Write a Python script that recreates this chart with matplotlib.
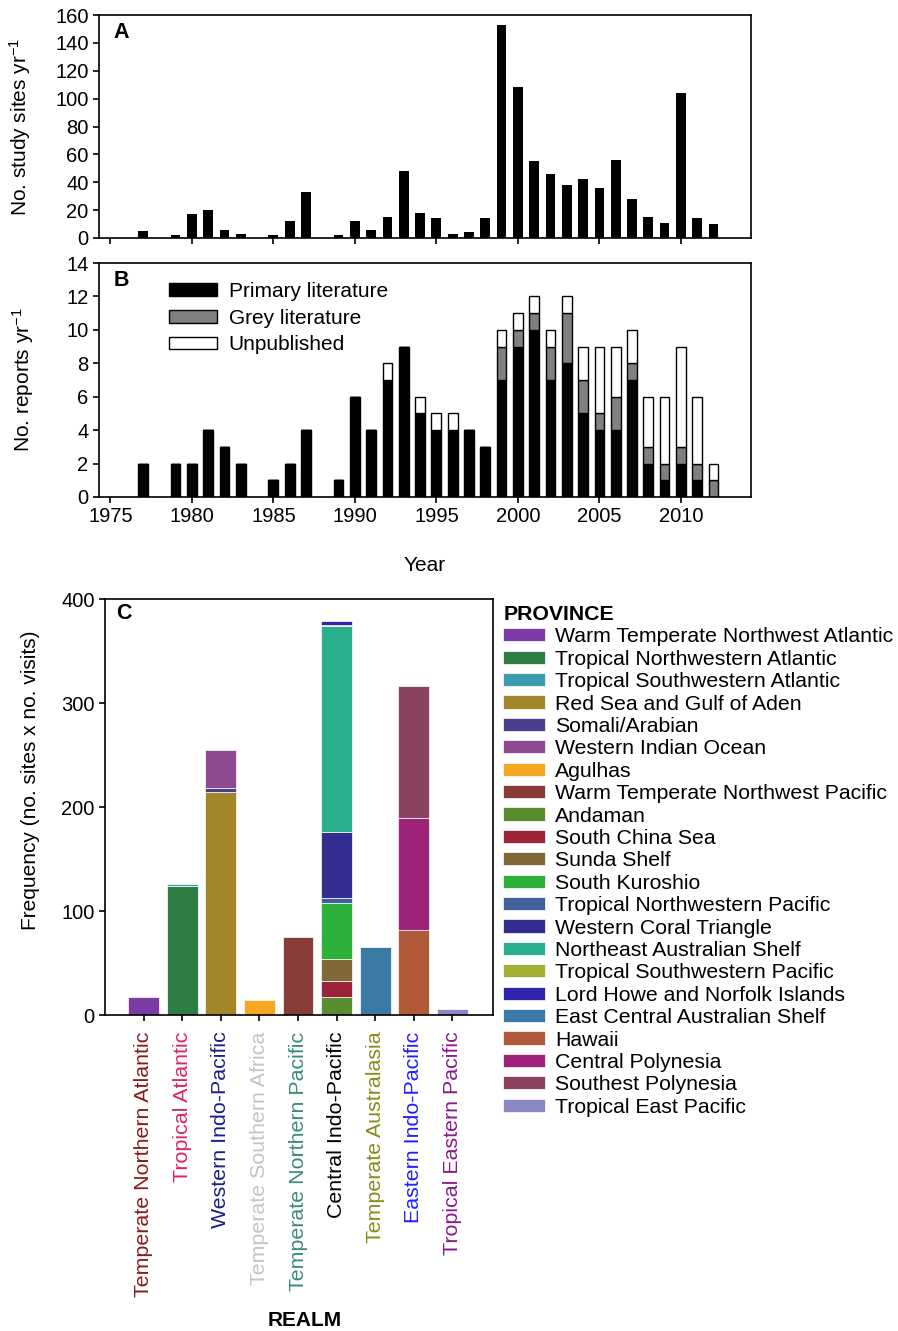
import matplotlib
matplotlib.use("Agg")
import matplotlib.pyplot as plt
from matplotlib.patches import Patch
import numpy as np

plt.rcParams["font.family"] = ["Liberation Sans", "DejaVu Sans"]
plt.rcParams["mathtext.default"] = "regular"

# ---------------------------------------------------------------------------
# Data
# ---------------------------------------------------------------------------

# Panel A: study sites per year
years_a = [1977, 1979, 1980, 1981, 1982, 1983, 1985, 1986, 1987, 1989, 1990,
           1991, 1992, 1993, 1994, 1995, 1996, 1997, 1998, 1999, 2000, 2001,
           2002, 2003, 2004, 2005, 2006, 2007, 2008, 2009, 2010, 2011, 2012]
sites_a = [5, 2, 17, 20, 6, 3, 2, 12, 33, 2, 12,
           6, 15, 48, 18, 14, 3, 4, 14, 153, 108, 55,
           46, 38, 42, 36, 56, 28, 15, 11, 104, 14, 10]

# Panel B: reports per year by source
years_b = years_a
primary = [2, 2, 2, 4, 3, 2, 1, 2, 4, 1, 6,
           4, 7, 9, 5, 4, 4, 4, 3, 7, 9, 10,
           7, 8, 5, 4, 4, 7, 2, 1, 2, 1, 0]
grey = [0, 0, 0, 0, 0, 0, 0, 0, 0, 0, 0,
        0, 0, 0, 0, 0, 0, 0, 0, 2, 1, 1,
        2, 3, 2, 1, 2, 1, 1, 1, 1, 1, 1]
unpublished = [0, 0, 0, 0, 0, 0, 0, 0, 0, 0, 0,
               0, 1, 0, 1, 1, 1, 0, 0, 1, 1, 1,
               1, 1, 2, 4, 3, 2, 3, 4, 6, 4, 1]

# Panel C: frequency by realm / province
realms = ["Temperate Northern Atlantic", "Tropical Atlantic",
          "Western Indo-Pacific", "Temperate Southern Africa",
          "Temperate Northern Pacific", "Central Indo-Pacific",
          "Temperate Australasia", "Eastern Indo-Pacific",
          "Tropical Eastern Pacific"]
realm_colors = ["#8b1a1a", "#e0245e", "#1c1c8c", "#c4c4c4", "#3a8a7a",
                "#000000", "#8a8a1a", "#1f1fff", "#8a1a8a"]

provinces = ["Warm Temperate Northwest Atlantic", "Tropical Northwestern Atlantic",
             "Tropical Southwestern Atlantic", "Red Sea and Gulf of Aden",
             "Somali/Arabian", "Western Indian Ocean", "Agulhas",
             "Warm Temperate Northwest Pacific", "Andaman", "South China Sea",
             "Sunda Shelf", "South Kuroshio", "Tropical Northwestern Pacific",
             "Western Coral Triangle", "Northeast Australian Shelf",
             "Tropical Southwestern Pacific", "Lord Howe and Norfolk Islands",
             "East Central Australian Shelf", "Hawaii", "Central Polynesia",
             "Southest Polynesia", "Tropical East Pacific"]
province_colors = ["#7e3ba8", "#2e7d45", "#3a9eae", "#a38627", "#4b3e8e",
                   "#8e4a90", "#f5a623", "#873c37", "#5a8c30", "#9b2438",
                   "#806838", "#2bb03a", "#42609a", "#342d92", "#2aae8e",
                   "#a3b035", "#3025aa", "#3a7aa5", "#b05a3a", "#9c2379",
                   "#8a435e", "#8a88c4"]
province_realm = [0, 1, 1, 2, 2, 2, 3, 4, 5, 5, 5, 5, 5, 5, 5, 5, 5, 6, 7, 7, 7, 8]
province_values = [17, 124, 2, 214, 4, 37, 14, 75, 17, 16, 21, 54, 5, 63,
                   198, 1, 4, 65, 82, 107, 127, 6]

# ---------------------------------------------------------------------------
# Figure
# ---------------------------------------------------------------------------

TICK = 14.5
LAB = 15

fig = plt.figure(figsize=(8.98, 13.31), dpi=100)
ax_a = fig.add_axes([0.1102, 0.8212, 0.7261, 0.1675])
ax_b = fig.add_axes([0.1102, 0.6266, 0.7261, 0.1758])
ax_c = fig.add_axes([0.1169, 0.2374, 0.4321, 0.3125])

for ax in (ax_a, ax_b, ax_c):
    for s in ax.spines.values():
        s.set_linewidth(1.2)
    ax.tick_params(direction="out", length=4, width=1.2, labelsize=TICK)

# Panel A
ax_a.bar(years_a, sites_a, width=0.6, color="black")
ax_a.set_xlim(1974.3, 2014.3)
ax_a.set_ylim(0, 160)
ax_a.set_yticks(np.arange(0, 161, 20))
ax_a.set_xticks(np.arange(1975, 2011, 5))
ax_a.set_xticklabels([])
ax_a.set_ylabel("No. study sites yr$^{-1}$", fontsize=LAB)
ax_a.yaxis.set_label_coords(-0.101, 0.5)
ax_a.text(0.022, 0.92, "A", transform=ax_a.transAxes, fontsize=15.5,
          fontweight="bold", va="center")

# Panel B
p_arr = np.array(primary)
g_arr = np.array(grey)
u_arr = np.array(unpublished)
kw = dict(width=0.6, edgecolor="black", linewidth=1.0)
ax_b.bar(years_b, p_arr, color="black", label="Primary literature", **kw)
ax_b.bar(years_b, g_arr, bottom=p_arr, color="#808080",
         label="Grey literature", **kw)
ax_b.bar(years_b, u_arr, bottom=p_arr + g_arr, color="white",
         label="Unpublished", **kw)
ax_b.set_xlim(1974.3, 2014.3)
ax_b.set_ylim(0, 14)
ax_b.set_yticks(np.arange(0, 15, 2))
ax_b.set_xticks(np.arange(1975, 2011, 5))
ax_b.set_xlabel("Year", fontsize=LAB, labelpad=21)
ax_b.set_ylabel("No. reports yr$^{-1}$", fontsize=LAB)
ax_b.yaxis.set_label_coords(-0.097, 0.5)
ax_b.text(0.022, 0.925, "B", transform=ax_b.transAxes, fontsize=15.5,
          fontweight="bold", va="center")
ax_b.legend(loc="upper left", bbox_to_anchor=(0.095, 0.955), frameon=False,
            fontsize=LAB, handlelength=2.3, handleheight=0.56,
            handletextpad=0.55, labelspacing=0.37, borderaxespad=0)

# Panel C
x_c = np.arange(1, len(realms) + 1)
bottoms = np.zeros(len(realms))
for name, col, r, v in zip(provinces, province_colors, province_realm,
                           province_values):
    ax_c.bar(x_c[r], v, bottom=bottoms[r], width=0.8, color=col,
             edgecolor="white", linewidth=0.5)
    bottoms[r] += v
ax_c.set_xlim(0, 10.05)
ax_c.set_ylim(0, 400)
ax_c.set_yticks(np.arange(0, 401, 100))
ax_c.set_xticks(x_c)
ax_c.set_xticklabels(realms, rotation=90, fontsize=15.4)
ax_c.tick_params(axis="x", pad=8)
for lbl, col in zip(ax_c.get_xticklabels(), realm_colors):
    lbl.set_color(col)
ax_c.set_ylabel("Frequency (no. sites x no. visits)", fontsize=LAB)
ax_c.yaxis.set_label_coords(-0.168, 0.565)
ax_c.text(0.03, 0.965, "C", transform=ax_c.transAxes, fontsize=15.5,
          fontweight="bold", va="center")

handles = [Patch(facecolor=c, edgecolor="white", linewidth=0.5)
           for c in province_colors]
leg = fig.legend(handles, provinces, loc="upper left",
                 bbox_to_anchor=(0.5605, 0.5455), frameon=False, fontsize=15.3,
                 title="PROVINCE", handlelength=1.95, handleheight=0.58,
                 handletextpad=0.5, labelspacing=0.16, borderaxespad=0,
                 borderpad=0, alignment="left")
leg.get_title().set_fontweight("bold")
leg.get_title().set_fontsize(15.3)

fig.text(305 / 898, 1 - 1320 / 1331, "REALM", fontsize=LAB,
         fontweight="bold", ha="center", va="center")

fig.savefig("out.png", dpi=100)
